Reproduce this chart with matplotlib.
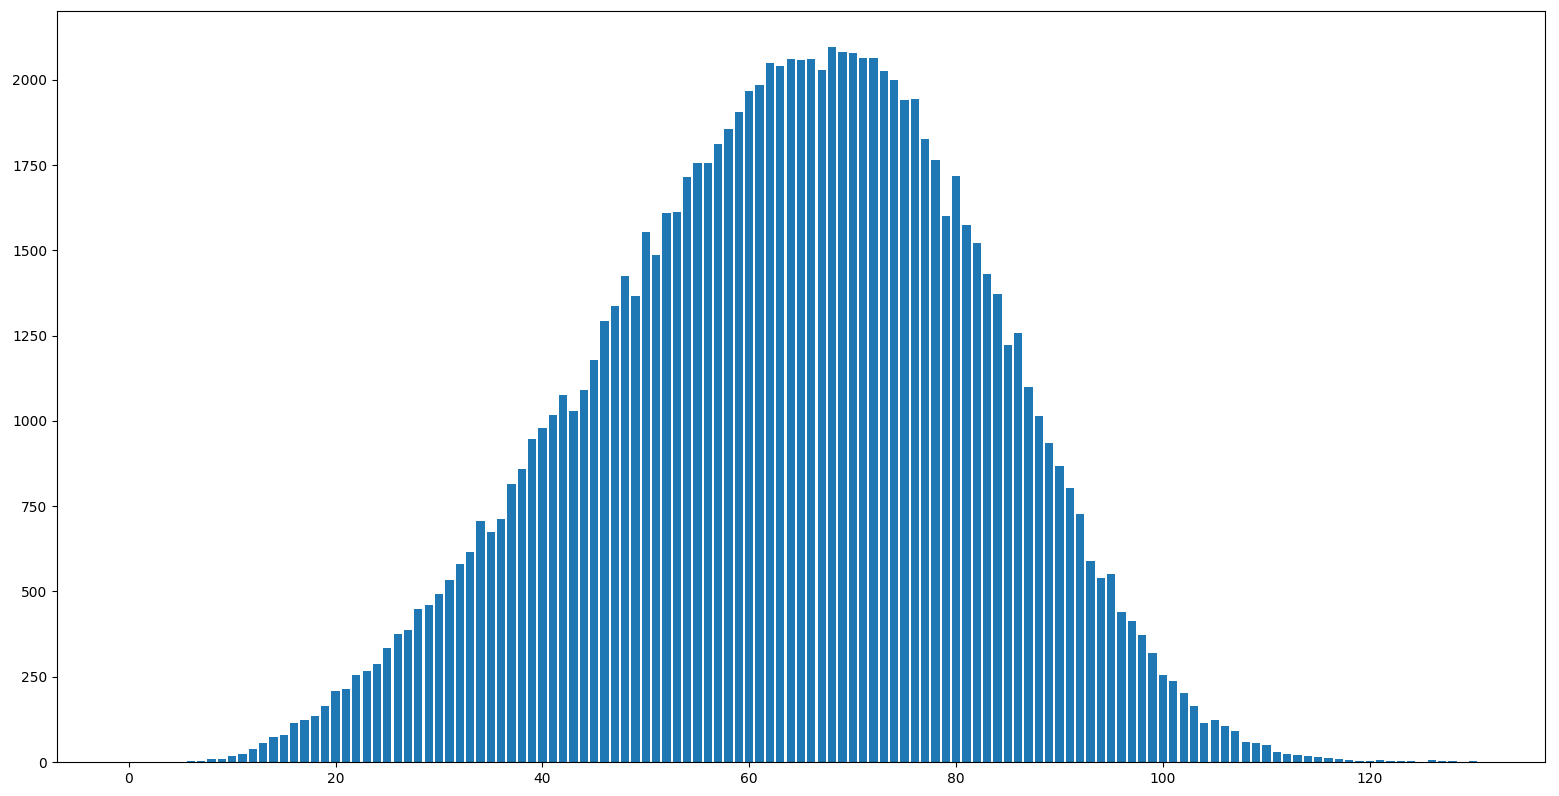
import matplotlib
matplotlib.use("Agg")
import matplotlib.pyplot as plt
import numpy as np

counts = [
    0, 0, 0, 0, 0, 0, 2, 2, 8, 8,
    17, 22, 38, 55, 73, 78, 113, 122, 135, 165,
    208, 215, 256, 268, 287, 334, 376, 387, 448, 460,
    492, 535, 580, 617, 707, 675, 713, 815, 860, 948,
    980, 1018, 1077, 1030, 1092, 1180, 1292, 1338, 1425, 1365,
    1553, 1487, 1611, 1614, 1714, 1757, 1757, 1813, 1855, 1905,
    1967, 1985, 2050, 2040, 2062, 2057, 2060, 2030, 2097, 2082,
    2078, 2065, 2065, 2025, 2000, 1940, 1943, 1828, 1765, 1600,
    1718, 1575, 1523, 1430, 1373, 1222, 1258, 1098, 1015, 935,
    868, 803, 728, 590, 540, 552, 440, 413, 372, 320,
    255, 237, 202, 165, 113, 123, 105, 90, 60, 55,
    50, 30, 23, 20, 17, 14, 11, 8, 5, 3,
    3, 6, 3, 3, 3, 0, 6, 3, 3, 0,
    3,
]
bins = np.arange(len(counts))

fig = plt.figure(figsize=(15.59, 7.96), dpi=100)
ax = fig.add_axes([57 / 1559, 1 - 762 / 796, (1545 - 57) / 1559, (762 - 11) / 796])
ax.bar(bins, counts)
fig.savefig("out.png")
